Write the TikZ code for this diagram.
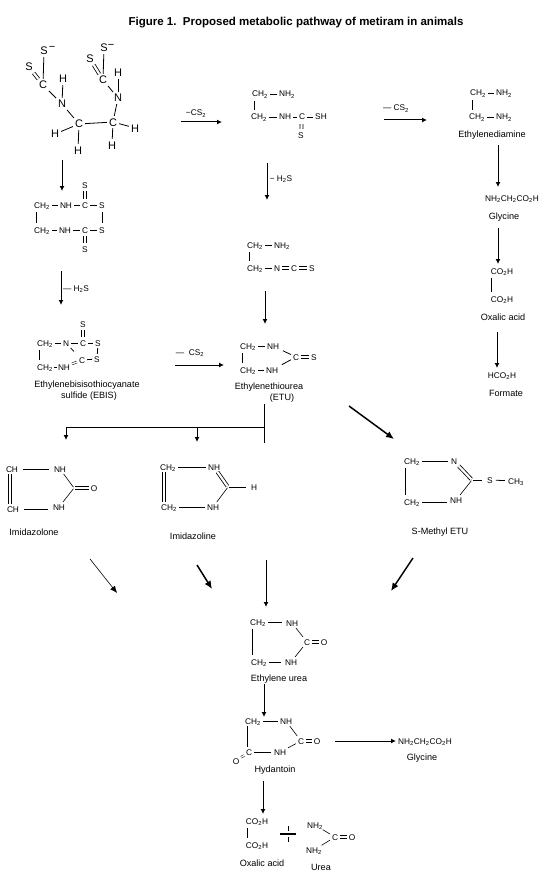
\documentclass[tikz,border=0pt]{standalone}
\usepackage{fontspec}
\setmainfont{Liberation Sans}
\usetikzlibrary{arrows.meta}
\newcommand{\sbs}[1]{\textsubscript{#1}}

\begin{document}
\begin{tikzpicture}[x=1pt,y=-1pt]
    \tikzset{
    bigatom/.style={font=\fontsize{11}{12}\selectfont, inner sep=1pt, text height=8pt, text depth=0pt},
    atom/.style={font=\fontsize{8.3}{10}\selectfont, inner sep=1pt, text height=6pt, text depth=0pt},
    cpd/.style={font=\fontsize{9.1}{10}\selectfont, inner sep=1pt},
    titletext/.style={font=\bfseries\fontsize{11.5}{12}\selectfont, inner sep=0pt},
    bond/.style={line width=0.8pt, shorten >=1pt, shorten <=1pt},
    vbond/.style={line width=0.8pt, shorten >=3pt, shorten <=3pt},
    dbl/.style={double, double distance=2.2pt, line width=0.8pt, shorten >=1pt, shorten <=1pt},
    rxn/.style={-{Latex[length=5pt,width=5pt]}, line width=1pt},
    boldrxn/.style={-{Latex[length=8pt,width=7pt]}, line width=1.5pt}
    }
    \useasboundingbox (0,0) rectangle (553,880);

    \node (fig)[titletext] at (296,23) {Figure 1.\ \ Proposed metabolic pathway of metiram in animals};

    \node (sa)[bigatom] at (44,51) {S};
    \node (sam)[bigatom] at (52,47) {−};
    \node (sb)[bigatom] at (29,67) {S};
    \node (ca)[bigatom] at (43,85) {C};
    \node (ha)[bigatom] at (63,79) {H};
    \node (na)[bigatom] at (62,104) {N};
    \node (cb)[bigatom] at (79,124) {C};
    \node (hb)[bigatom] at (55,134) {H};
    \node (hc)[bigatom] at (78,150) {H};
    \node (cc)[bigatom] at (113,122) {C};
    \node (hd)[bigatom] at (135,128) {H};
    \node (he)[bigatom] at (112,145) {H};
    \node (nb)[bigatom] at (118,98) {N};
    \node (hf)[bigatom] at (118,73) {H};
    \node (cd)[bigatom] at (103,80) {C};
    \node (sc)[bigatom] at (90,59) {S};
    \node (sd)[bigatom] at (104,48) {S};
    \node (sdm)[bigatom] at (111,45) {−};
    \draw[bond] (sa) -- (ca);
    \draw[dbl] (ca) -- (sb);
    \draw[bond] (ca) -- (na);
    \draw[bond] (ha) -- (na);
    \draw[bond] (na) -- (cb);
    \draw[bond] (cb) -- (cc);
    \draw[bond] (cb) -- (hb);
    \draw[bond] (cb) -- (hc);
    \draw[bond] (cc) -- (hd);
    \draw[bond] (cc) -- (he);
    \draw[bond] (cc) -- (nb);
    \draw[bond] (nb) -- (hf);
    \draw[bond] (cd) -- (nb);
    \draw[dbl] (cd) -- (sc);
    \draw[bond] (cd) -- (sd);

    \coordinate (ra1) at (181,122);
    \coordinate (ra2) at (222,122);
    \draw[rxn] (ra1) -- (ra2);
    \node (lossa)[atom] at (196,113) {−CS\sbs{2}};

    \node (mca)[atom] at (260,94) {CH\sbs{2}};
    \node (mna)[atom] at (287,94) {NH\sbs{2}};
    \node (mcb)[atom] at (259,117) {CH\sbs{2}};
    \node (mnb)[atom] at (285,117) {NH};
    \node (mcc)[atom] at (302,117) {C};
    \node (msh)[atom] at (321,117) {SH};
    \node (mss)[atom] at (301,136) {S};
    \draw[bond] (mca) -- (mna);
    \draw[bond] (mcb) -- (mnb);
    \draw[bond] (mnb) -- (mcc);
    \draw[bond] (mcc) -- (msh);
    \draw[dbl, shorten >=3pt, shorten <=3pt] (mcc) -- (mss);
    \draw[vbond] ([xshift=3pt]mca.south west) -- ([xshift=3pt]mca.south west |- mcb.north);

    \coordinate (rb1) at (384,120);
    \coordinate (rb2) at (427,120);
    \draw[rxn] (rb1) -- (rb2);
    \node (lossb)[atom] at (396,108) {— CS\sbs{2}};

    \node (eca)[atom] at (478,93) {CH\sbs{2}};
    \node (ena)[atom] at (504,93) {NH\sbs{2}};
    \node (ecb)[atom] at (477,117) {CH\sbs{2}};
    \node (enb)[atom] at (504,117) {NH\sbs{2}};
    \node (eda)[cpd] at (492,135) {Ethylenediamine};
    \draw[bond] (eca) -- (ena);
    \draw[bond] (ecb) -- (enb);
    \draw[vbond] ([xshift=3pt]eca.south west) -- ([xshift=3pt]eca.south west |- ecb.north);

    \coordinate (rc1) at (498,145);
    \coordinate (rc2) at (498,187);
    \draw[rxn] (rc1) -- (rc2);
    \node (gfa)[atom] at (512,198) {NH\sbs{2}CH\sbs{2}CO\sbs{2}H};
    \node (gna)[cpd] at (504,217) {Glycine};

    \coordinate (rd1) at (498,228);
    \coordinate (rd2) at (498,264);
    \draw[rxn] (rd1) -- (rd2);
    \node (oxa)[atom] at (502,271) {CO\sbs{2}H};
    \node (oxb)[atom] at (502,299) {CO\sbs{2}H};
    \node (oxn)[cpd] at (503,317) {Oxalic acid};
    \draw[vbond] ([xshift=2pt]oxa.south west) -- ([xshift=2pt]oxa.south west |- oxb.north);

    \coordinate (re1) at (497,332);
    \coordinate (re2) at (497,368);
    \draw[rxn] (re1) -- (re2);
    \node (fmf)[atom] at (502,375) {HCO\sbs{2}H};
    \node (fmn)[cpd] at (506,393) {Formate};

    \coordinate (rf1) at (267,163);
    \coordinate (rf2) at (267,200);
    \draw[rxn] (rf1) -- (rf2);
    \node (lossc)[atom] at (281,178) {− H\sbs{2}S};

    \node (ica)[atom] at (255,245) {CH\sbs{2}};
    \node (ina)[atom] at (282,245) {NH\sbs{2}};
    \node (icb)[atom] at (255,268) {CH\sbs{2}};
    \node (inb)[atom] at (277,268) {N};
    \node (icc)[atom] at (294,268) {C};
    \node (iss)[atom] at (312,268) {S};
    \draw[bond] (ica) -- (ina);
    \draw[bond] (icb) -- (inb);
    \draw[dbl] (inb) -- (icc);
    \draw[dbl] (icc) -- (iss);
    \draw[vbond] ([xshift=3pt]ica.south west) -- ([xshift=3pt]ica.south west |- icb.north);

    \coordinate (rg1) at (265,291);
    \coordinate (rg2) at (265,324);
    \draw[rxn] (rg1) -- (rg2);

    \node (tca)[atom] at (248,346) {CH\sbs{2}};
    \node (tna)[atom] at (273,346) {NH};
    \node (tcb)[atom] at (248,370) {CH\sbs{2}};
    \node (tnb)[atom] at (272,370) {NH};
    \node (tcc)[atom] at (296,357) {C};
    \node (tss)[atom] at (314,357) {S};
    \node (etu)[cpd] at (269,387) {Ethylenethiourea};
    \node (etub)[cpd] at (282,398) {(ETU)};
    \draw[bond] (tca) -- (tna);
    \draw[bond] (tcb) -- (tnb);
    \draw[bond, shorten <=3pt] (tna) -- (tcc);
    \draw[bond, shorten <=3pt] (tnb) -- (tcc);
    \draw[dbl] (tcc) -- (tss);
    \draw[vbond] ([xshift=3pt]tca.south west) -- ([xshift=3pt]tca.south west |- tcb.north);

    \coordinate (bra) at (264,404);
    \coordinate (brb) at (264,443);
    \coordinate (brc) at (264,427);
    \coordinate (brd) at (66,427);
    \coordinate (bre) at (66,440);
    \coordinate (brf) at (197,427);
    \coordinate (brg) at (197,442);
    \draw[line width=1pt] (bra) -- (brb);
    \draw[rxn] (brc) -- (brd) -- (bre);
    \draw[rxn] (brf) -- (brg);

    \coordinate (rh1) at (349,406);
    \coordinate (rh2) at (394,439);
    \draw[boldrxn] (rh1) -- (rh2);

    \coordinate (ri1) at (62,160);
    \coordinate (ri2) at (62,191);
    \draw[rxn] (ri1) -- (ri2);

    \node (dca)[atom] at (42,205) {CH\sbs{2}};
    \node (dna)[atom] at (66,205) {NH};
    \node (dcb)[atom] at (85,205) {C};
    \node (dsa)[atom] at (102,205) {S};
    \node (dsb)[atom] at (85,185) {S};
    \node (dcc)[atom] at (42,230) {CH\sbs{2}};
    \node (dnb)[atom] at (65,230) {NH};
    \node (dcd)[atom] at (85,230) {C};
    \node (dsc)[atom] at (102,230) {S};
    \node (dsd)[atom] at (85,249) {S};
    \draw[bond] (dca) -- (dna);
    \draw[bond] (dna) -- (dcb);
    \draw[bond] (dcb) -- (dsa);
    \draw[dbl, shorten >=2pt, shorten <=2pt] (dcb) -- (dsb);
    \draw[bond] (dcc) -- (dnb);
    \draw[bond] (dnb) -- (dcd);
    \draw[bond] (dcd) -- (dsc);
    \draw[dbl, shorten >=2pt, shorten <=2pt] (dcd) -- (dsd);
    \draw[vbond] ([xshift=3pt]dca.south west) -- ([xshift=3pt]dca.south west |- dcc.north);
    \draw[vbond] (dsa) -- (dsc);

    \coordinate (rj1) at (61,271);
    \coordinate (rj2) at (61,305);
    \draw[rxn] (rj1) -- (rj2);
    \node (lossd)[atom] at (76,288) {— H\sbs{2}S};

    \node (bsa)[atom] at (83,324) {S};
    \node (bca)[atom] at (45,343) {CH\sbs{2}};
    \node (bna)[atom] at (66,343) {N};
    \node (bcb)[atom] at (83,343) {C};
    \node (bsb)[atom] at (98,343) {S};
    \node (bsc)[atom] at (97,359) {S};
    \node (bcc)[atom] at (82,360) {C};
    \node (bnb)[atom] at (64,367) {NH};
    \node (bcd)[atom] at (45,367) {CH\sbs{2}};
    \node (ebis)[cpd] at (87,385) {Ethylenebisisothiocyanate};
    \node (ebisb)[cpd] at (89,396) {sulfide (EBIS)};
    \draw[dbl, shorten >=2pt, shorten <=2pt] (bcb) -- (bsa);
    \draw[bond] (bca) -- (bna);
    \draw[bond] (bna) -- (bcb);
    \draw[bond] (bcb) -- (bsb);
    \draw[bond] (bsb) -- (bsc);
    \draw[bond] (bcc) -- (bsc);
    \draw[dbl, double distance=1.4pt, line width=0.5pt] (bnb) -- (bcc);
    \draw[bond, shorten >=0pt, shorten <=0pt] (bcd) -- (bnb);
    \draw[bond, shorten >=6pt] (bna) -- (bcc);
    \draw[vbond] ([xshift=3pt]bca.south west) -- ([xshift=3pt]bca.south west |- bcd.north);

    \coordinate (rk1) at (175,365);
    \coordinate (rk2) at (224,365);
    \draw[rxn] (rk1) -- (rk2);
    \node (losse)[atom] at (190,352) {—\ \ CS\sbs{2}};

    \coordinate (ola) at (74,488);
    \node (ocha)[atom] at (12,469) {CH};
    \node (onha)[atom] at (60,469) {NH};
    \node (ochb)[atom] at (13,509) {CH};
    \node (onhb)[atom] at (59,507) {NH};
    \node (oox)[atom] at (94,488) {O};
    \node (olone)[cpd] at (34,532) {Imidazolone};
    \draw[bond, shorten <=4pt, shorten >=4pt] (ocha.east) -- (onha.west);
    \draw[bond, shorten <=4pt, shorten >=4pt] (ochb.east) -- (ochb.east -| onhb.west);
    \draw[dbl] ([xshift=-2pt]ocha.south) -- ([xshift=-3pt]ochb.north);
    \draw[bond, line width=0.6pt] (onha) -- (ola);
    \draw[bond, line width=0.6pt] (onhb) -- (ola);
    \draw[dbl] (ola) -- (oox);

    \coordinate (ila) at (228,487);
    \node (icha)[atom] at (168,467) {CH\sbs{2}};
    \node (inha)[atom] at (214,467) {NH};
    \node (ichb)[atom] at (169,507) {CH\sbs{2}};
    \node (inhb)[atom] at (213,507) {NH};
    \node (ihh)[atom] at (254,487) {H};
    \node (iline)[cpd] at (193,536) {Imidazoline};
    \draw[bond] (icha) -- (inha);
    \draw[bond] (ichb) -- (inhb);
    \draw[dbl] ([xshift=-4pt]icha.south) -- ([xshift=-5pt]ichb.north);
    \draw[dbl] (inha) -- (ila);
    \draw[bond, line width=0.6pt] (inhb) -- (ila);
    \draw[bond, shorten >=4pt] (ila) -- (ihh);

    \coordinate (sla) at (472,480);
    \node (scha)[atom] at (412,461) {CH\sbs{2}};
    \node (sna)[atom] at (454,461) {N};
    \node (schb)[atom] at (412,502) {CH\sbs{2}};
    \node (snhb)[atom] at (456,500) {NH};
    \node (sss)[atom] at (490,480) {S};
    \node (sch)[atom] at (516,481) {CH\sbs{3}};
    \node (setu)[cpd] at (440,532) {S-Methyl ETU};
    \draw[bond, shorten >=2pt] (scha) -- (sna);
    \draw[bond, shorten >=2pt] (schb.east) -- (snhb.west |- schb.east);
    \draw[vbond] ([xshift=2pt]scha.south west) -- ([xshift=2pt]scha.south west |- schb.north);
    \draw[dbl] (sna) -- (sla);
    \draw[bond, line width=0.6pt] (snhb) -- (sla);
    \draw[bond, shorten >=4pt] (sla) -- (sss);
    \draw[bond, shorten <=2pt, shorten >=2pt] (sss) -- (sch);

    \coordinate (rl1) at (90,559);
    \coordinate (rl2) at (117,593);
    \draw[-{Latex[length=7pt,width=6pt]}, line width=0.6pt] (rl1) -- (rl2);
    \coordinate (rm1) at (197,565);
    \coordinate (rm2) at (212,589);
    \draw[boldrxn] (rm1) -- (rm2);
    \coordinate (rn1) at (266,560);
    \coordinate (rn2) at (266,607);
    \draw[rxn] (rn1) -- (rn2);
    \coordinate (ro1) at (413,558);
    \coordinate (ro2) at (391,591);
    \draw[boldrxn] (ro1) -- (ro2);

    \node (uca)[atom] at (258,622) {CH\sbs{2}};
    \node (una)[atom] at (292,623) {NH};
    \node (ucb)[atom] at (259,662) {CH\sbs{2}};
    \node (unb)[atom] at (291,662) {NH};
    \node (ucc)[atom] at (307,642) {C};
    \node (uox)[atom] at (324,642) {O};
    \node (eurea)[cpd] at (279,679) {Ethylene urea};
    \draw[bond, shorten >=3pt] (uca) -- (uca -| una.west);
    \draw[bond, shorten >=3pt] (ucb) -- (unb);
    \draw[bond, line width=0.6pt] (una) -- (ucc);
    \draw[bond, line width=0.6pt] (unb) -- (ucc);
    \draw[dbl] (ucc) -- (uox);
    \draw[vbond] ([xshift=3pt]uca.south west) -- ([xshift=3pt]uca.south west |- ucb.north);

    \coordinate (rp1) at (264,684);
    \coordinate (rp2) at (264,717);
    \draw[rxn] (rp1) -- (rp2);

    \node (hca)[atom] at (253,721) {CH\sbs{2}};
    \node (hna)[atom] at (286,721) {NH};
    \node (hcb)[atom] at (249,752) {C};
    \node (hnb)[atom] at (280,752) {NH};
    \node (hcc)[atom] at (301,741) {C};
    \node (hox)[atom] at (317,741) {O};
    \node (hoy)[atom] at (236,761) {O};
    \node (hyd)[cpd] at (275,770) {Hydantoin};
    \draw[bond] (hca) -- (hna);
    \draw[bond, shorten >=2pt] (hcb) -- (hnb);
    \draw[bond, line width=0.6pt] (hna) -- (hcc);
    \draw[bond, line width=0.6pt] (hnb) -- (hcc);
    \draw[dbl] (hcc) -- (hox);
    \draw[dbl, double distance=1.4pt, line width=0.5pt] (hcb) -- (hoy);
    \draw[bond] ([xshift=3pt]hca.south west) -- ([xshift=3pt]hca.south west |- hcb.north);

    \coordinate (rq1) at (335,741);
    \coordinate (rq2) at (396,741);
    \draw[rxn] (rq1) -- (rq2);
    \node (gfb)[atom] at (425,741) {NH\sbs{2}CH\sbs{2}CO\sbs{2}H};
    \node (gnb)[cpd] at (422,758) {Glycine};

    \coordinate (rr1) at (263,781);
    \coordinate (rr2) at (263,814);
    \draw[rxn] (rr1) -- (rr2);

    \node (aca)[atom] at (257,821) {CO\sbs{2}H};
    \node (acb)[atom] at (257,845) {CO\sbs{2}H};
    \node (acn)[cpd] at (262,863) {Oxalic acid};
    \draw[vbond] ([xshift=3pt]aca.south west) -- ([xshift=3pt]aca.south west |- acb.north);

    \coordinate (pla) at (280,834);
    \coordinate (plb) at (296,834);
    \coordinate (plc) at (288,826);
    \coordinate (pld) at (288,831);
    \coordinate (ple) at (288,837);
    \coordinate (plf) at (288,842);
    \draw[line width=1.6pt] (pla) -- (plb);
    \draw[line width=0.8pt] (plc) -- (pld);
    \draw[line width=0.8pt] (ple) -- (plf);

    \node (ora)[atom] at (315,825) {NH\sbs{2}};
    \node (orb)[atom] at (314,850) {NH\sbs{2}};
    \node (orc)[atom] at (335,837) {C};
    \node (oro)[atom] at (352,837) {O};
    \node (urea)[cpd] at (321,867) {Urea};
    \draw[bond, line width=0.6pt] (ora) -- (orc);
    \draw[bond, line width=0.6pt] (orb) -- (orc);
    \draw[dbl] (orc) -- (oro);

\end{tikzpicture}
\end{document}
